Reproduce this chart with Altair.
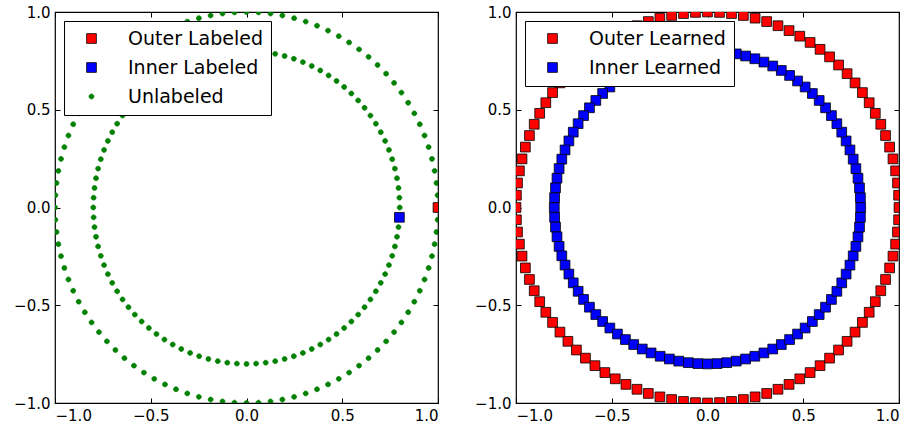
import altair as alt
import numpy as np
import pandas as pd

# Angles (degrees) of the points on each circle
angles_deg = [0.0, 3.6, 7.2, 10.8, 14.4, 18.0, 21.6, 25.2, 28.8, 32.4,
              36.0, 39.6, 43.2, 46.8, 50.4, 54.0, 57.6, 61.2, 64.8, 68.4,
              72.0, 75.6, 79.2, 82.8, 86.4, 90.0, 93.6, 97.2, 100.8, 104.4,
              108.0, 111.6, 115.2, 118.8, 122.4, 126.0, 129.6, 133.2, 136.8, 140.4,
              144.0, 147.6, 151.2, 154.8, 158.4, 162.0, 165.6, 169.2, 172.8, 176.4,
              180.0, 183.6, 187.2, 190.8, 194.4, 198.0, 201.6, 205.2, 208.8, 212.4,
              216.0, 219.6, 223.2, 226.8, 230.4, 234.0, 237.6, 241.2, 244.8, 248.4,
              252.0, 255.6, 259.2, 262.8, 266.4, 270.0, 273.6, 277.2, 280.8, 284.4,
              288.0, 291.6, 295.2, 298.8, 302.4, 306.0, 309.6, 313.2, 316.8, 320.4,
              324.0, 327.6, 331.2, 334.8, 338.4, 342.0, 345.6, 349.2, 352.8, 356.4]
outer_radius = 1.0
inner_radius = 0.8
labeled_outer_index = 0
labeled_inner_index = 99

tick_values = [-1.0, -0.5, 0.0, 0.5, 1.0]
left_series = ["Outer Labeled", "Inner Labeled", "Unlabeled"]
right_series = ["Outer Learned", "Inner Learned"]

theta = np.deg2rad(np.array(angles_deg))
outer_x, outer_y = outer_radius * np.cos(theta), outer_radius * np.sin(theta)
inner_x, inner_y = inner_radius * np.cos(theta), inner_radius * np.sin(theta)

# Left panel (drawing order: outer labeled, unlabeled, inner labeled)
rows = [(outer_x[labeled_outer_index], outer_y[labeled_outer_index], "Outer Labeled")]
for i in range(len(angles_deg)):
    if i != labeled_outer_index:
        rows.append((outer_x[i], outer_y[i], "Unlabeled"))
for i in range(len(angles_deg)):
    if i != labeled_inner_index:
        rows.append((inner_x[i], inner_y[i], "Unlabeled"))
rows.append((inner_x[labeled_inner_index], inner_y[labeled_inner_index], "Inner Labeled"))
df_left = pd.DataFrame(rows, columns=["x", "y", "series"])

rows = [(outer_x[i], outer_y[i], "Outer Learned") for i in range(len(angles_deg))]
rows += [(inner_x[i], inner_y[i], "Inner Learned") for i in range(len(angles_deg))]
df_right = pd.DataFrame(rows, columns=["x", "y", "series"])

df_ticks = pd.DataFrame({"v": tick_values})

SQUARE = "square"
DOT = "M0.5,0A0.5,0.5,0,1,1,-0.5,0A0.5,0.5,0,1,1,0.5,0Z"
SYM_SIZE = 95
W, H = 383, 391
FONT = "DejaVu Sans"

label_axis = dict(values=tick_values, format=".1f", offset=-5, tickSize=5,
                  labelPadding=5, domain=False, grid=False, title=None,
                  labelFont=FONT, labelFontSize=15, labelColor="black",
                  tickColor="black", tickWidth=1)
tick_axis = dict(values=tick_values, labels=False, offset=-5, tickSize=5,
                 domain=False, grid=False, title=None, tickColor="black", tickWidth=1)


def panel(df, domain, fills, shapes, strokes):
    xs = alt.Scale(domain=[-1, 1], nice=False, zero=False)
    ys = alt.Scale(domain=[-1, 1], nice=False, zero=False)
    legend = alt.Legend(title=None, orient="top-left", offset=9, padding=8,
                        strokeColor="black", fillColor="white",
                        labelFontSize=19, labelFont=FONT, labelColor="black",
                        symbolOffset=10, labelOffset=27, rowPadding=9,
                        symbolSize=SYM_SIZE, symbolStrokeWidth=0.8, cornerRadius=0)
    pts = alt.Chart(df).mark_point(filled=True, clip=True, strokeWidth=0.8,
                                   opacity=1, size=SYM_SIZE).encode(
        x=alt.X("x:Q", scale=xs, axis=alt.Axis(orient="bottom", **label_axis)),
        y=alt.Y("y:Q", scale=ys, axis=alt.Axis(orient="left", **label_axis)),
        fill=alt.Fill("series:N", scale=alt.Scale(domain=domain, range=fills), legend=legend),
        shape=alt.Shape("series:N", scale=alt.Scale(domain=domain, range=shapes), legend=legend),
        stroke=alt.Stroke("series:N", scale=alt.Scale(domain=domain, range=strokes), legend=legend),
    )
    ticks = alt.Chart(df_ticks).mark_point(opacity=0).encode(
        x=alt.X("v:Q", scale=xs, axis=alt.Axis(orient="top", **tick_axis)),
        y=alt.Y("v:Q", scale=ys, axis=alt.Axis(orient="right", **tick_axis)),
    )
    return alt.layer(pts, ticks).properties(
        width=W, height=H,
        view=alt.ViewBackground(stroke="black", strokeWidth=1.2, fill="white"))


left = panel(df_left, left_series, ["#ff0000", "#0000ff", "#008000"],
             [SQUARE, SQUARE, DOT], ["black", "black", "#008000"])
right = panel(df_right, right_series, ["#ff0000", "#0000ff"],
              [SQUARE, SQUARE], ["black", "black"])

chart = alt.hconcat(left, right, spacing=31).resolve_scale(
    fill="independent", shape="independent", stroke="independent"
).resolve_legend(
    fill="independent", shape="independent", stroke="independent"
).properties(
    padding={"left": 12, "top": 4, "right": 5, "bottom": 5}
).configure_view(
    stroke="black", strokeWidth=1.2
).configure(background="white")

chart.save("out.html", embed_options={"renderer": "svg", "actions": False})
